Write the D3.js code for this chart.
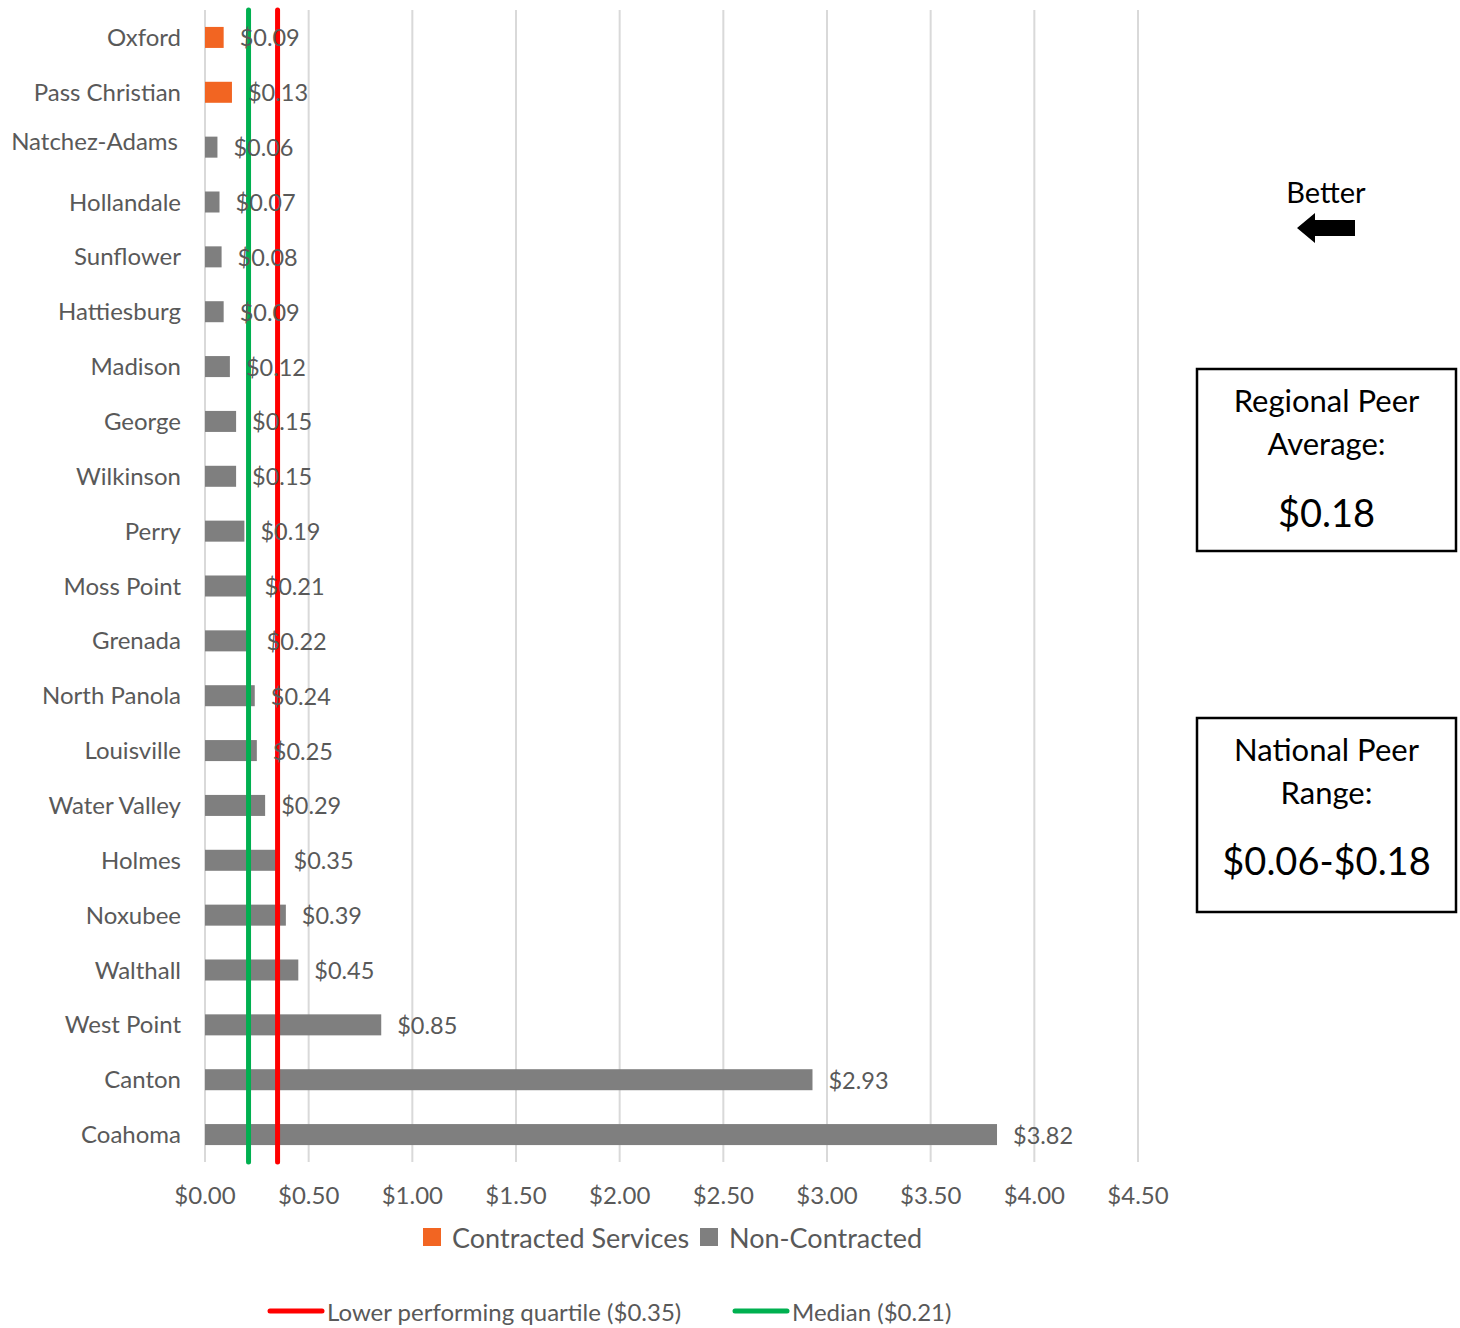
<!DOCTYPE html>
<html>
<head>
<meta charset="utf-8">
<script src="https://cdn.jsdelivr.net/npm/d3@7"></script>
<style>
  html, body { margin: 0; padding: 0; background: #fff; }
  svg { display: block; font-family: Lato, "Open Sans", sans-serif; }
</style>
</head>
<body>
<svg id="chart" width="1460" height="1328"></svg>
<script>
const categories = ["Oxford","Pass Christian","Natchez-Adams","Hollandale","Sunflower","Hattiesburg","Madison","George","Wilkinson","Perry","Moss Point","Grenada","North Panola","Louisville","Water Valley","Holmes","Noxubee","Walthall","West Point","Canton","Coahoma"];
const contracted    = [0.09, 0.13, null, null, null, null, null, null, null, null, null, null, null, null, null, null, null, null, null, null, null];
const nonContracted = [null, null, 0.06, 0.07, 0.08, 0.09, 0.12, 0.15, 0.15, 0.19, 0.21, 0.22, 0.24, 0.25, 0.29, 0.35, 0.39, 0.45, 0.85, 2.93, 3.82];
const xTicks = [0, 0.5, 1, 1.5, 2, 2.5, 3, 3.5, 4, 4.5];
const lowerQuartile = 0.35;
const median = 0.21;
const seriesNames = ["Contracted Services", "Non-Contracted"];
const lineNames = ["Lower performing quartile ($0.35)", "Median ($0.21)"];
const regionalLabel = ["Regional Peer", "Average:", "$0.18"];
const nationalLabel = ["National Peer", "Range:", "$0.06-$0.18"];

const colors = { contracted: "#F26522", non: "#7F7F7F", red: "#FF0000", green: "#00B050", grid: "#D9D9D9", text: "#595959" };
const fmt = d => "$" + d.toFixed(2);

const svg = d3.select("#chart");
const x = d3.scaleLinear().domain([0, 4.5]).range([205, 1138]);
const p = 0.617;
const y = d3.scaleBand().domain(categories).range([10, 1162]).paddingInner(p).paddingOuter(p / 2);

// gridlines
svg.append("g").selectAll("line").data(xTicks).join("line")
  .attr("x1", d => x(d)).attr("x2", d => x(d))
  .attr("y1", 10).attr("y2", 1162)
  .attr("stroke", colors.grid).attr("stroke-width", 2);

// x tick labels
svg.append("g").selectAll("text").data(xTicks).join("text")
  .attr("x", d => x(d)).attr("y", 1194)
  .attr("text-anchor", "middle").attr("dominant-baseline", "central")
  .attr("font-size", 24).attr("fill", colors.text)
  .text(fmt);

// category labels
svg.append("g").selectAll("text").data(categories).join("text")
  .attr("x", d => d === "Natchez-Adams" ? 178 : 181)
  .attr("y", d => y(d) + y.bandwidth() / 2 - (d === "Natchez-Adams" ? 7 : 1))
  .attr("text-anchor", "end").attr("dominant-baseline", "central")
  .attr("font-size", 24).attr("fill", colors.text)
  .text(d => d);

const rows = categories.map((c, i) => ({
  cat: c,
  value: contracted[i] != null ? contracted[i] : nonContracted[i],
  color: contracted[i] != null ? colors.contracted : colors.non
}));

// bars
svg.append("g").selectAll("rect").data(rows).join("rect")
  .attr("x", x(0)).attr("y", d => y(d.cat))
  .attr("width", d => x(d.value) - x(0)).attr("height", y.bandwidth())
  .attr("fill", d => d.color);

// reference lines
[[median, colors.green], [lowerQuartile, colors.red]].forEach(([v, c]) => {
  svg.append("line")
    .attr("x1", x(v)).attr("x2", x(v)).attr("y1", 10).attr("y2", 1162)
    .attr("stroke", c).attr("stroke-width", 5).attr("stroke-linecap", "round");
});

// value labels
svg.append("g").selectAll("text").data(rows).join("text")
  .attr("x", d => x(d.value) + 16).attr("y", d => y(d.cat) + y.bandwidth() / 2)
  .attr("dominant-baseline", "central")
  .attr("font-size", 23.5).attr("fill", colors.text)
  .text(d => fmt(d.value));

// series legend
const lg = svg.append("g");
const legendItems = [
  { name: seriesNames[0], color: colors.contracted, sx: 423 },
  { name: seriesNames[1], color: colors.non, sx: 700 }
];
legendItems.forEach(it => {
  lg.append("rect").attr("x", it.sx).attr("y", 1228).attr("width", 18).attr("height", 18).attr("fill", it.color);
  lg.append("text").attr("x", it.sx + 29).attr("y", 1237).attr("dominant-baseline", "central")
    .attr("font-size", 27).attr("fill", colors.text).text(it.name);
});

// line legend
const ll = svg.append("g");
const lineItems = [
  { name: lineNames[0], color: colors.red, sx: 270 },
  { name: lineNames[1], color: colors.green, sx: 735 }
];
lineItems.forEach(it => {
  ll.append("line").attr("x1", it.sx).attr("x2", it.sx + 52).attr("y1", 1311).attr("y2", 1311)
    .attr("stroke", it.color).attr("stroke-width", 5).attr("stroke-linecap", "round");
  ll.append("text").attr("x", it.sx + 57).attr("y", 1311).attr("dominant-baseline", "central")
    .attr("font-size", 24).attr("fill", colors.text).text(it.name);
});

// Better arrow
svg.append("text").attr("x", 1326).attr("y", 191).attr("text-anchor", "middle").attr("dominant-baseline", "central")
  .attr("font-size", 29).attr("fill", "#000").text("Better");
svg.append("path")
  .attr("d", "M1297,228 L1315,213 L1315,220 L1355,220 L1355,236 L1315,236 L1315,243 Z")
  .attr("fill", "#000");

// info boxes
function infoBox(lines, top, h, ys) {
  const g = svg.append("g");
  g.append("rect").attr("x", 1197).attr("y", top).attr("width", 259).attr("height", h)
    .attr("fill", "#fff").attr("stroke", "#000").attr("stroke-width", 2.5);
  lines.forEach((t, i) => {
    g.append("text").attr("x", 1326.5).attr("y", ys[i]).attr("text-anchor", "middle").attr("dominant-baseline", "central")
      .attr("font-size", i === 2 ? 38 : 31).attr("fill", "#000").text(t);
  });
}
infoBox(regionalLabel, 369, 182, [400, 443, 512]);
infoBox(nationalLabel, 718, 194, [749, 792, 860]);
</script>
</body>
</html>
